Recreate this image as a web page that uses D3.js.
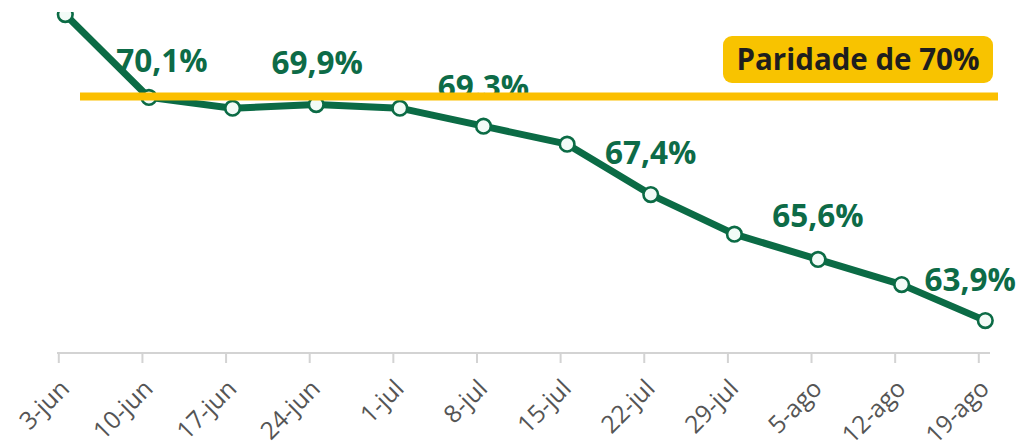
<!DOCTYPE html>
<html>
<head>
<meta charset="utf-8">
<script src="https://cdn.jsdelivr.net/npm/d3@7"></script>
<style>
  html, body { margin: 0; padding: 0; background: #fff; }
  svg { display: block; }
</style>
</head>
<body>
<svg id="chart" width="1019" height="447"></svg>
<script>
// ---- data ----
const categories = ["3-jun", "10-jun", "17-jun", "24-jun", "1-jul", "8-jul", "15-jul", "22-jul", "29-jul", "5-ago", "12-ago", "19-ago"];
const values = [72.4, 70.1, 69.8, 69.9, 69.8, 69.3, 68.8, 67.4, 66.3, 65.6, 64.9, 63.9];
const labelCategories = ["10-jun", "24-jun", "8-jul", "22-jul", "5-ago", "19-ago"];
const labelTexts = ["70,1%", "69,9%", "69.3%", "67,4%", "65,6%", "63,9%"];
const parityValue = 70;
const parityText = "Paridade de 70%";

// ---- layout / style ----
const W = 1019, H = 447;
const green = "#0b6b45";
const yellow = "#fbbf00";
const svg = d3.select("#chart");

const x = d3.scalePoint().domain(categories).range([58.3, 978.3]);
const y = d3.scaleLinear().domain([63, 73]).range([353, -7]);
const pointShift = 7;
const px = c => x(c) + pointShift;

// clip for the top edge of the picture
svg.append("defs").append("clipPath").attr("id", "clip")
  .append("rect").attr("x", 0).attr("y", 12).attr("width", W).attr("height", H);

// axis
const axisG = svg.append("g").attr("transform", "translate(0,353)");
axisG.call(d3.axisBottom(x).tickSize(10).tickPadding(0).tickSizeOuter(0));
axisG.select(".domain").attr("stroke", "#d3d3d3").attr("stroke-width", 2)
  .attr("d", "M57,0H990");
axisG.selectAll(".tick line").attr("stroke", "#d3d3d3").attr("stroke-width", 2);
axisG.selectAll(".tick text")
  .attr("fill", "#555")
  .attr("font-family", "'Open Sans', sans-serif")
  .attr("font-size", 24.5)
  .attr("text-anchor", "end")
  .attr("dy", 0)
  .attr("y", 0)
  .attr("transform", "translate(12,37) rotate(-45)");

// line + markers
const plot = svg.append("g").attr("clip-path", "url(#clip)");
const data = categories.map((c, i) => ({ c, v: values[i] }));
plot.append("path")
  .datum(data)
  .attr("fill", "none")
  .attr("stroke", green)
  .attr("stroke-width", 7)
  .attr("stroke-linejoin", "round")
  .attr("d", d3.line().x(d => px(d.c)).y(d => y(d.v)));
plot.selectAll("circle.pt")
  .data(data)
  .join("circle")
  .attr("class", "pt")
  .attr("cx", d => px(d.c))
  .attr("cy", d => y(d.v))
  .attr("r", 7.3)
  .attr("fill", "#f2fbf7")
  .attr("stroke", green)
  .attr("stroke-width", 2.6);

// data labels
const labelOffsets = [[13, -25], [1, -31], [0, -28], [0, -31], [0, -32], [-15, -30]];
svg.selectAll("text.lbl")
  .data(labelCategories)
  .join("text")
  .attr("class", "lbl")
  .attr("x", (c, i) => px(c) + labelOffsets[i][0])
  .attr("y", (c, i) => y(values[categories.indexOf(c)]) + labelOffsets[i][1])
  .attr("text-anchor", "middle")
  .attr("font-family", "'Open Sans', sans-serif")
  .attr("font-weight", 700)
  .attr("font-size", 31.5)
  .attr("fill", "#0d6b47")
  .text((c, i) => labelTexts[i]);

// parity line (drawn on top)
svg.append("line")
  .attr("x1", 80).attr("x2", 998)
  .attr("y1", y(parityValue) - 4.5).attr("y2", y(parityValue) - 4.5)
  .attr("stroke", yellow)
  .attr("stroke-width", 8);

// parity badge
const badge = svg.append("g");
badge.append("rect")
  .attr("x", 723).attr("y", 36).attr("width", 270).attr("height", 47)
  .attr("rx", 9).attr("fill", "#f8c300");
const bt = badge.append("text")
  .attr("x", 858).attr("y", 70)
  .attr("text-anchor", "middle")
  .attr("font-family", "'Open Sans', sans-serif")
  .attr("font-weight", 700)
  .attr("font-size", 27)
  .attr("fill", "#1e1e1e")
  .text(parityText);
const wMeasured = bt.node().getComputedTextLength();
bt.attr("font-size", 27 * 243 / wMeasured);
</script>
</body>
</html>
